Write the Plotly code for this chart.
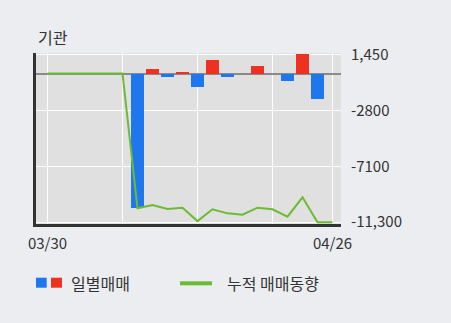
import plotly.graph_objects as go

dates = ["03/30", "03/31", "04/03", "04/04", "04/05", "04/06", "04/07", "04/10", "04/11", "04/12",
         "04/13", "04/14", "04/17", "04/18", "04/19", "04/20", "04/21", "04/24", "04/25", "04/26"]
daily = [0, 0, 0, 0, 0, 0, -10250, 350, -230, 130, -1000, 1000, -240, 0, 600, 0, -550, 1450, -1900, 0]
cumulative = [0, 0, 0, 0, 0, 0, -10250, -9995, -10300, -10200, -11220, -10325, -10630, -10735,
              -10200, -10325, -10885, -9410, -11300, -11300]
ytick_vals = [1450, -2800, -7100, -11300]
ytick_text = ["1,450", "-2800", "-7100", "-11,300"]
xtick_idx = [0, 5, 10, 15, 19]
title_text = "기관"
legend_bar = "일별매매"
legend_line = "누적 매매동향"

BLUE = "#1F77EE"
RED = "#EE3222"
GREEN = "#6DBB35"
FONT = "Noto Sans CJK KR"

W, H = 451, 323
ML, MR, MT, MB = 36, 110, 53, 99
PW, PH = W - ML - MR, H - MT - MB


def px2x(px):
    return (px - ML) / PW


def px2y(py):
    return (H - MB - py) / PH


x = list(range(len(dates)))
colors = [RED if v > 0 else BLUE for v in daily]

fig = go.Figure()
fig.add_trace(go.Bar(x=x, y=daily, marker=dict(color=colors, line=dict(width=0)),
                     width=0.87, showlegend=False, yaxis="y"))
fig.add_trace(go.Scatter(x=x, y=cumulative, mode="lines", line=dict(color=GREEN, width=2),
                         showlegend=False, yaxis="y2"))

yr = [-11440, 1560]
fig.update_layout(
    width=W, height=H,
    margin=dict(l=ML, r=MR, t=MT, b=MB),
    paper_bgcolor="#ECEDF0",
    plot_bgcolor="#E0E0E0",
    font=dict(family=FONT, size=15, color="#333333"),
    bargap=0,
    xaxis=dict(range=[-0.767, 19.567], tickmode="array", tickvals=xtick_idx,
               ticktext=[dates[i] if i in (0, 19) else "" for i in xtick_idx],
               showgrid=True, gridcolor="#FFFFFF", gridwidth=1, zeroline=False,
               showline=True, linecolor="#333333", linewidth=2.5,
               ticks="outside", ticklen=4, tickcolor="rgba(0,0,0,0)",
               tickfont=dict(size=15, color="#333333")),
    yaxis=dict(range=yr, tickmode="array", tickvals=ytick_vals, showticklabels=False,
               showgrid=True, gridcolor="#FFFFFF", gridwidth=1,
               zeroline=True, zerolinecolor="#8A8A8A", zerolinewidth=2,
               showline=True, linecolor="#333333", linewidth=2.5, side="left"),
    yaxis2=dict(range=yr, overlaying="y", side="right", tickmode="array",
                tickvals=ytick_vals, ticktext=ytick_text, showgrid=False, zeroline=False,
                showline=False, ticks="", ticklabelstandoff=9,
                tickfont=dict(size=15, color="#333333")),
)

# title
fig.add_annotation(xref="paper", yref="paper", x=px2x(36), y=px2y(37), text=title_text,
                   showarrow=False, xanchor="left", yanchor="middle",
                   font=dict(family=FONT, size=16, color="#333333"))

# legend (custom, as in the reference)
fig.add_shape(type="rect", xref="paper", yref="paper", x0=px2x(36), x1=px2x(46.7),
              y0=px2y(287.7), y1=px2y(277.7), fillcolor=BLUE, line=dict(width=0))
fig.add_shape(type="rect", xref="paper", yref="paper", x0=px2x(51), x1=px2x(62),
              y0=px2y(287.7), y1=px2y(277.7), fillcolor=RED, line=dict(width=0))
fig.add_annotation(xref="paper", yref="paper", x=px2x(69), y=px2y(283), text=legend_bar,
                   showarrow=False, xanchor="left", yanchor="middle",
                   font=dict(family=FONT, size=16, color="#333333"))
fig.add_shape(type="line", xref="paper", yref="paper", x0=px2x(180), x1=px2x(212),
              y0=px2y(283.3), y1=px2y(283.3), line=dict(color=GREEN, width=4))
fig.add_annotation(xref="paper", yref="paper", x=px2x(225), y=px2y(283), text=legend_line,
                   showarrow=False, xanchor="left", yanchor="middle",
                   font=dict(family=FONT, size=16, color="#333333"))

fig.write_html("out.html")
